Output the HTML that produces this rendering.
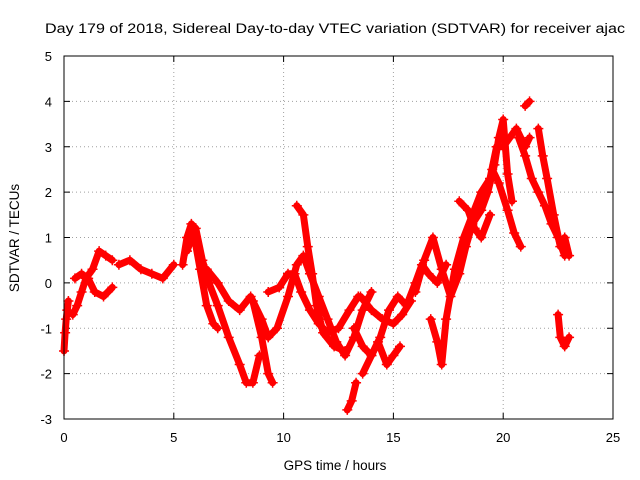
<!DOCTYPE html>
<html><head><meta charset="utf-8"><style>
body{margin:0;background:#fff}
svg{display:block;font-family:"Liberation Sans",sans-serif}
</style></head><body>
<svg id="chart" width="640" height="480" viewBox="0 0 640 480">
<text x="45" y="33" font-size="13.5" textLength="580" lengthAdjust="spacingAndGlyphs">Day 179 of 2018, Sidereal Day-to-day VTEC variation (SDTVAR) for receiver ajac</text>
<text transform="translate(19,238) rotate(-90)" font-size="13.5" text-anchor="middle">SDTVAR / TECUs</text>
<text x="335" y="470" font-size="13.5" text-anchor="middle">GPS time / hours</text>
<g id="grid"></g><g id="ticks"></g><g id="series"></g>
<rect x="64" y="56" width="549" height="363" fill="none" stroke="#000" stroke-width="1"/>
</svg>
<script>
const xTicks=[0,5,10,15,20,25];
const yTicks=[-3,-2,-1,0,1,2,3,4,5];
const tracks=[
[[0,-1.5],[0.05,-1.1],[0.1,-0.8],[0.15,-0.6],[0.2,-0.4]],
[[0.4,-0.7],[0.6,-0.5],[0.8,-0.2],[1.0,0.1],[1.3,0.3],[1.6,0.7],[1.9,0.6],[2.2,0.5]],
[[0.5,0.1],[0.8,0.2],[1.1,0.1],[1.4,-0.2],[1.8,-0.3],[2.2,-0.1]],
[[2.5,0.4],[3,0.5],[3.5,0.3],[4,0.2],[4.5,0.1],[5,0.4]],
[[5.4,0.4],[5.6,1.0],[5.8,1.3],[6.0,1.2],[6.3,0.5],[6.6,0],[7,-0.5],[7.5,-1.2],[8,-1.8],[8.3,-2.2],[8.6,-2.2],[8.9,-1.6]],
[[5.6,0.7],[5.9,1.1],[6.2,0.3],[6.5,-0.5],[6.8,-0.9],[7,-1.0]],
[[6.5,0.3],[7,0],[7.5,-0.4],[8,-0.6],[8.5,-0.3],[9,-0.8],[9.3,-1.2],[9.7,-1.0],[10.2,-0.3],[10.6,0.4],[10.9,0.6],[11.2,0.2],[11.6,-0.3],[12,-0.8],[12.4,-1.3],[12.8,-1.6],[13.2,-1.2],[13.6,-0.6],[14,-0.2]],
[[8.6,-0.4],[9.0,-1.2],[9.3,-2.0],[9.5,-2.2]],
[[9.3,-0.2],[9.8,-0.1],[10.2,0.2],[10.5,0.2],[10.8,-0.2],[11.2,-0.6],[11.6,-0.9],[12,-1.1],[12.5,-1.0],[13,-0.6],[13.4,-0.3]],
[[10.6,1.7],[10.9,1.5],[11.1,0.8],[11.3,0.2],[11.5,-0.5],[11.8,-1.1],[12.3,-1.4],[12.8,-1.5]],
[[12.9,-2.8],[13.1,-2.6],[13.3,-2.2]],
[[13.2,-1.0],[13.6,-1.4],[14,-1.6],[14.4,-1.2],[14.8,-0.6],[15.2,-0.3],[15.6,-0.5],[16,0],[16.3,0.4],[16.6,0.2],[17,0],[17.4,0.4]],
[[13.6,-2.0],[14,-1.6],[14.3,-1.3],[14.7,-1.8],[15,-1.6],[15.3,-1.4]],
[[13.5,-0.3],[14,-0.6],[14.5,-0.8],[15,-0.9],[15.4,-0.7],[15.8,-0.4]],
[[16,-0.2],[16.4,0.5],[16.8,1.0],[17.2,0.3],[17.6,-0.3],[18,0.2],[18.3,0.8],[18.6,1.3],[19,1.6],[19.3,2.0],[19.6,2.6],[19.8,3.2],[20,3.6],[20.2,2.4],[20.4,1.8]],
[[16.7,-0.8],[17,-1.3],[17.2,-1.8],[17.4,-0.8],[17.8,0.3],[18.2,1.0],[18.6,1.5],[19,2.0],[19.4,2.3],[19.7,3.0],[20,3.0],[20.3,3.2],[20.6,3.4],[21,3.0],[21.2,3.2]],
[[18,1.8],[18.4,1.6],[18.7,1.2],[19,1.0],[19.4,1.5]],
[[19.5,2.5],[19.8,2.2],[20.2,1.6],[20.5,1.1],[20.8,0.8]],
[[20.7,3.2],[21,2.8],[21.3,2.3],[21.6,2.0],[21.9,1.7],[22.2,1.3],[22.5,1.0],[22.8,0.6]],
[[21.0,3.9],[21.2,4.0]],
[[21.6,3.4],[21.8,2.8],[22,2.3],[22.3,1.5],[22.6,0.8],[22.8,1.0],[23,0.6]],
[[22.5,-0.7],[22.6,-1.2],[22.8,-1.4],[23,-1.2]]
];
const NS="http://www.w3.org/2000/svg";
const X0=64,X1=613,Y0=419,Y1=56;
function sx(t){return X0+(t-0)/(25-0)*(X1-X0);}
function sy(v){return Y0-(v+3)/(5+3)*(Y0-Y1);}
function mk(tag,attrs,parent){const e=document.createElementNS(NS,tag);for(const k in attrs)e.setAttribute(k,attrs[k]);parent.appendChild(e);return e;}
const grid=document.getElementById('grid'),ticks=document.getElementById('ticks'),ser=document.getElementById('series');
xTicks.forEach(t=>{const x=sx(t);
 if(t>0&&t<25){const g=mk('line',{x1:x,x2:x,y1:Y1,y2:Y0,stroke:'#a0a0a0','stroke-dasharray':'1,3'},grid);
 
 }
 mk('line',{x1:x,x2:x,y1:Y0,y2:Y0-6,stroke:'#000'},ticks);mk('line',{x1:x,x2:x,y1:Y1,y2:Y1+6,stroke:'#000'},ticks);
 const l=mk('text',{x:x,y:Y0+23,'font-size':13,'text-anchor':'middle'},ticks);l.textContent=t;
 
 });
yTicks.forEach(v=>{const y=sy(v);
 if(v>-3&&v<5){const g=mk('line',{x1:X0,x2:X1,y1:y,y2:y,stroke:'#a0a0a0','stroke-dasharray':'1,3'},grid);
 
 }
 mk('line',{x1:X0,x2:X0+6,y1:y,y2:y,stroke:'#000'},ticks);mk('line',{x1:X1,x2:X1-6,y1:y,y2:y,stroke:'#000'},ticks);
 const l=mk('text',{x:X0-12,y:y+5,'font-size':13,'text-anchor':'end'},ticks);l.textContent=v;
 
 });
tracks.forEach(tr=>{
 const p=mk('polyline',{points:tr.map(d=>sx(d[0])+','+sy(d[1])).join(' '),fill:'none',stroke:'#f00','stroke-width':7,'stroke-linejoin':'round','stroke-linecap':'round'},ser);
 
 
 tr.forEach(d=>{const x=sx(d[0]),y=sy(d[1]);
  const m=mk('path',{d:`M${x-5},${y}H${x+5}M${x},${y-5}V${y+5}`,stroke:'#f00','stroke-width':1.5},ser);
  
  });
});
</script>
</body></html>
